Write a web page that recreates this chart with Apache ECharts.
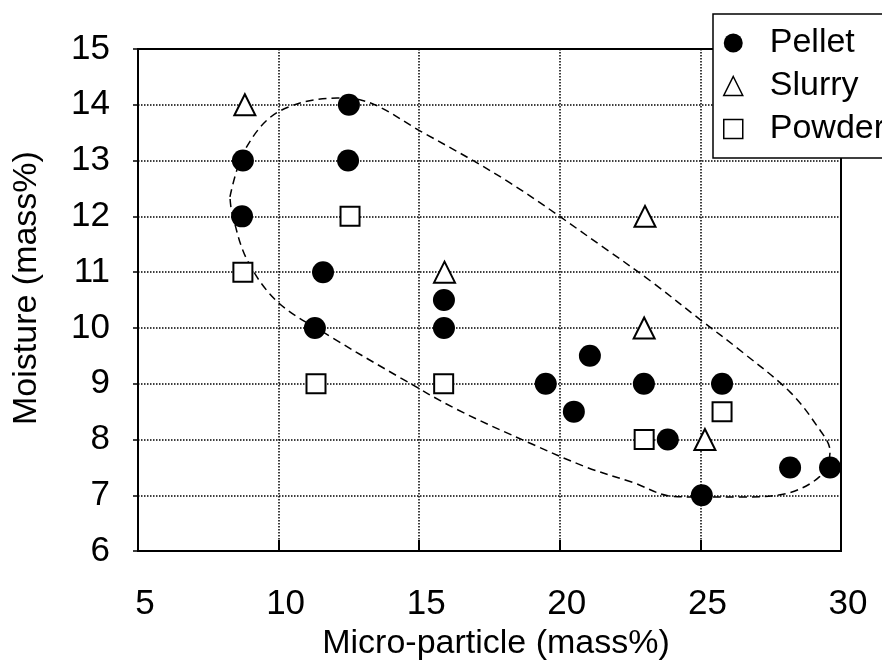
<!DOCTYPE html>
<html>
<head>
<meta charset="utf-8">
<script src="https://cdn.jsdelivr.net/npm/echarts@6/dist/echarts.min.js"></script>
<style>
html,body{margin:0;padding:0;background:#fff;}
#chart{width:882px;height:666px;}
</style>
</head>
<body>
<div id="chart"></div>
<script>
// Series data [micro-particle mass%, moisture mass%]
const pellet = [
  [12.5, 14], [8.73, 13], [12.47, 13], [8.7, 12], [11.58, 11], [11.29, 10],
  [15.88, 10.5], [15.88, 10], [19.5, 9], [20.5, 8.5], [21.07, 9.5], [22.99, 9],
  [23.84, 8], [25.77, 9], [25.05, 7], [28.19, 7.5], [29.61, 7.5]
];
const slurry = [
  [8.8, 14], [15.9, 11], [23.03, 12], [23.0, 10], [25.16, 8]
];
const powder = [
  [8.73, 11], [12.54, 12], [11.33, 9], [15.87, 9], [23.0, 8], [25.77, 8.5]
];
// Hand-drawn dashed enclosing curve (closed)
const envelope = [
  [8.27, 12.35], [8.80, 13.19], [9.98, 13.87], [12.08, 14.12], [12.89, 14.09],
  [15.14, 13.50], [18.23, 12.60], [21.68, 11.40], [23.31, 10.81], [24.99, 10.15],
  [26.51, 9.56], [28.19, 8.85], [29.15, 8.24], [29.61, 7.79], [29.25, 7.34],
  [27.94, 7.02], [26.41, 6.97], [25.06, 6.97], [24.03, 6.98], [22.60, 7.23],
  [20.97, 7.50], [19.05, 7.91], [16.34, 8.54], [14.32, 9.11], [11.83, 9.85],
  [9.98, 10.46], [8.88, 11.22], [8.34, 12.07], [8.27, 12.35]
];
const xTitle = 'Micro-particle (mass%)';
const yTitle = 'Moisture (mass%)';
const seriesNames = ['Pellet', 'Slurry', 'Powder'];

const FONT = 'Liberation Sans';
const TICKFONT = '"Liberation Sans Narrow", "Liberation Sans"';

const chart = echarts.init(document.getElementById('chart'), null, {renderer: 'canvas'});
chart.setOption({
  animation: false,
  backgroundColor: '#fff',
  textStyle: {fontFamily: FONT, color: '#000'},
  grid: {left: 138, right: 41, top: 49, bottom: 114, show: true, borderColor: '#000', borderWidth: 2, backgroundColor: 'transparent'},
  legend: {
    data: [
      {name: seriesNames[0], icon: 'circle', itemStyle: {color: '#000', borderWidth: 0}},
      {name: seriesNames[1], icon: 'triangle', itemStyle: {color: '#fff', borderColor: '#000', borderWidth: 1.5}},
      {name: seriesNames[2], icon: 'rect', itemStyle: {color: '#fff', borderColor: '#000', borderWidth: 1.5}}
    ],
    orient: 'vertical',
    left: 713, top: 14,
    padding: [12, 0, 12, 10],
    itemWidth: 19, itemHeight: 19, itemGap: 9,
    backgroundColor: '#fff',
    borderColor: '#000', borderWidth: 1.5,
    textStyle: {fontFamily: FONT, fontSize: 34, color: '#000', lineHeight: 34, padding: [0, 0, 0, 22]}
  },
  xAxis: {
    type: 'value', min: 5, max: 30, interval: 5,
    name: xTitle, nameLocation: 'middle', nameGap: 73,
    nameTextStyle: {fontFamily: FONT, fontSize: 34, color: '#000', padding: [0, 0, 0, 13]},
    axisLine: {show: true, lineStyle: {color: '#000', width: 2}},
    axisTick: {show: true, inside: true, length: 11, lineStyle: {color: '#000', width: 2}},
    axisLabel: {fontFamily: TICKFONT, fontSize: 35, color: '#000', margin: 36, padding: [0, 0, 0, 14]},
    splitLine: {show: true, lineStyle: {color: '#000', type: [1.5, 1.5], width: 1.5}}
  },
  yAxis: {
    type: 'value', min: 6, max: 15, interval: 1,
    name: yTitle, nameLocation: 'middle', nameGap: 94,
    nameTextStyle: {fontFamily: FONT, fontSize: 34, color: '#000', padding: [0, 0, 0, 24]},
    axisLine: {show: true, lineStyle: {color: '#000', width: 2}},
    axisTick: {show: true, inside: false, length: 5, lineStyle: {color: '#000', width: 1.5}},
    axisLabel: {fontFamily: TICKFONT, fontSize: 35, color: '#000', margin: 28, padding: [10, 0, 0, 0]},
    splitLine: {show: true, lineStyle: {color: '#000', type: [1.5, 1.5], width: 1.5}}
  },
  series: [
    {
      name: 'envelope', type: 'line', data: envelope, smooth: 0.35,
      showSymbol: false, symbol: 'none', z: 1, silent: true,
      lineStyle: {color: '#000', width: 1.5, type: [8, 5]}
    },
    {
      name: 'Pellet', type: 'scatter', data: pellet, symbol: 'circle', symbolSize: 22, z: 3,
      itemStyle: {color: '#000', opacity: 1}
    },
    {
      name: 'Slurry', type: 'scatter', data: slurry, symbol: 'triangle', symbolSize: 21, z: 3,
      itemStyle: {color: '#fff', borderColor: '#000', borderWidth: 2, opacity: 1}
    },
    {
      name: 'Powder', type: 'scatter', data: powder, symbol: 'rect', symbolSize: 19, z: 3,
      itemStyle: {color: '#fff', borderColor: '#000', borderWidth: 2, opacity: 1}
    }
  ]
});
</script>
</body>
</html>
